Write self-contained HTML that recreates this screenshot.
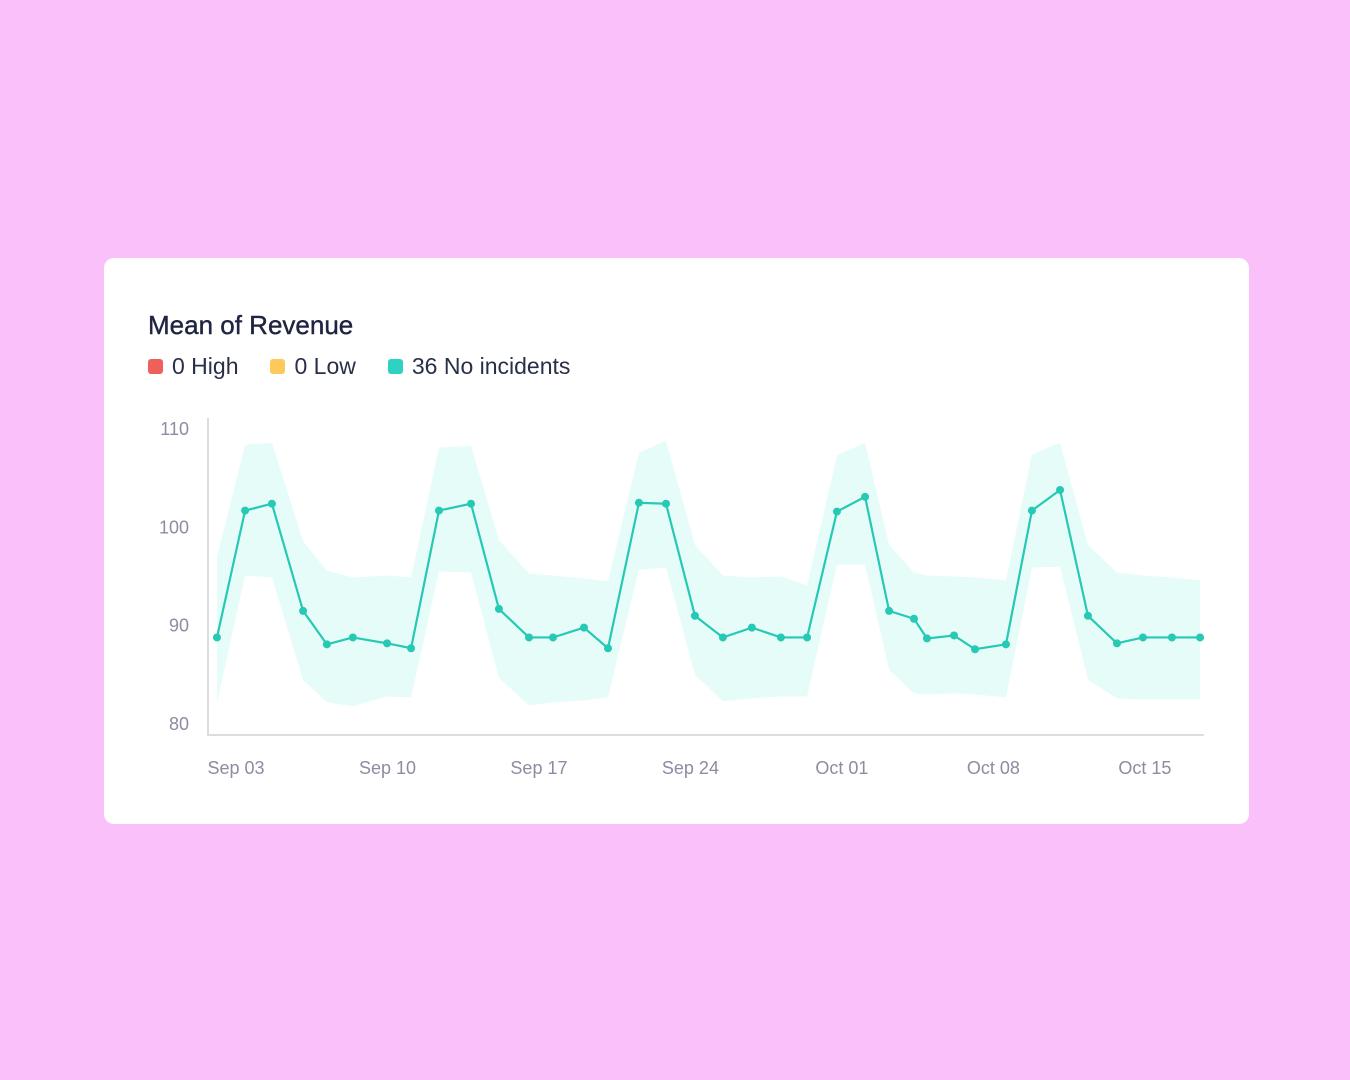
<!DOCTYPE html>
<html><head><meta charset="utf-8"><style>
body{margin:0;width:1350px;height:1080px;background:#f9c0f9;font-family:"Liberation Sans",sans-serif;position:relative;overflow:hidden}
.card{position:absolute;left:104px;top:258px;width:1145px;height:566px;background:#fff;border-radius:10px}
.title{position:absolute;left:44px;top:52px;font-size:26px;font-weight:500;color:#1f2440;-webkit-text-stroke:0.4px #1f2440}
.legend{position:absolute;left:44px;top:95px;font-size:23px;color:#2a2f48;display:flex;gap:32px}
.li{display:flex;align-items:center;gap:9px}
.sw{width:15px;height:15px;border-radius:3px}
svg{position:absolute;left:0;top:0}
</style></head><body>
<div class="card">
<div class="title">Mean of Revenue</div>
<div class="legend">
<div class="li"><span class="sw" style="background:#f0605a"></span>0 High</div>
<div class="li"><span class="sw" style="background:#fcc95a"></span>0 Low</div>
<div class="li"><span class="sw" style="background:#2ed2c2"></span>36 No incidents</div>
</div>
</div>
<svg id="chart" width="1350" height="1080"></svg>
<script>
const days=[-0.88,0.42,1.66,3.1,4.2,5.4,6.98,8.09,9.38,10.86,12.15,13.54,14.65,16.08,17.19,18.62,19.87,21.21,22.5,23.84,25.18,26.39,27.77,29.07,30.18,31.33,31.93,33.18,34.15,35.58,36.78,38.08,39.37,40.71,41.91,43.25,44.55];
const values=[88.7,101.6,102.3,91.4,88.0,88.7,88.1,87.6,101.6,102.3,91.6,88.7,88.7,89.7,87.6,102.4,102.3,90.9,88.7,89.7,88.7,88.7,101.5,103.0,91.4,90.6,88.6,88.9,87.5,88.0,101.6,103.7,90.9,88.1,88.7,88.7,88.7];
const upper=[96.9,108.3,108.5,98.5,95.5,94.8,95,94.8,108,108.2,98.6,95.2,95,94.7,94.4,107.5,108.7,98.1,95,94.8,94.9,94,107.2,108.5,98.1,95.3,95,94.9,94.8,94.5,107.3,108.5,98.1,95.3,95,94.8,94.5];
const lower=[82,95,94.8,84.4,82.1,81.7,82.7,82.6,95.4,95.3,84.6,81.8,82.1,82.3,82.6,95.6,95.8,84.9,82.2,82.5,82.7,82.7,96.1,96.1,85.4,83,82.9,83,82.9,82.6,95.8,95.9,84.4,82.5,82.4,82.4,82.4];
const yTicks=[80,90,100,110];
const xTickDays=[0,7,14,21,28,35,42];
const xTickLabels=["Sep 03","Sep 10","Sep 17","Sep 24","Oct 01","Oct 08","Oct 15"];
const X=d=>236+d*21.64;
const Y=v=>428+(110-v)*9.833;
const ns="http://www.w3.org/2000/svg";
const svg=document.getElementById('chart');
function mk(t,a){const e=document.createElementNS(ns,t);for(const k in a)e.setAttribute(k,a[k]);svg.appendChild(e);return e;}
let bp=days.map((d,i)=>X(d)+','+Y(upper[i])).concat(days.map((d,i)=>X(d)+','+Y(lower[i])).reverse()).join(' ');
const band=mk('polygon',{points:bp,fill:'#e6fcf9'});


const ax=mk('path',{d:'M208 418 V735 H1204',stroke:'#dcdce2','stroke-width':2,fill:'none'});


yTicks.forEach(v=>{const t=mk('text',{x:189,y:Y(v)+7,'text-anchor':'end','font-size':18,fill:'#8c8ca2','font-family':'Liberation Sans'});t.textContent=v;

});
xTickDays.forEach((d,i)=>{const t=mk('text',{x:X(d),y:774,'text-anchor':'middle','font-size':18,fill:'#8c8ca2','font-family':'Liberation Sans'});t.textContent=xTickLabels[i];

});
const line=mk('polyline',{points:days.map((d,i)=>X(d)+','+Y(values[i])).join(' '),fill:'none',stroke:'#26c9b4','stroke-width':2.2});


days.forEach((d,i)=>{const c=mk('circle',{cx:X(d),cy:Y(values[i]),r:4,fill:'#26c9b4'});

});
</script>
</body></html>
